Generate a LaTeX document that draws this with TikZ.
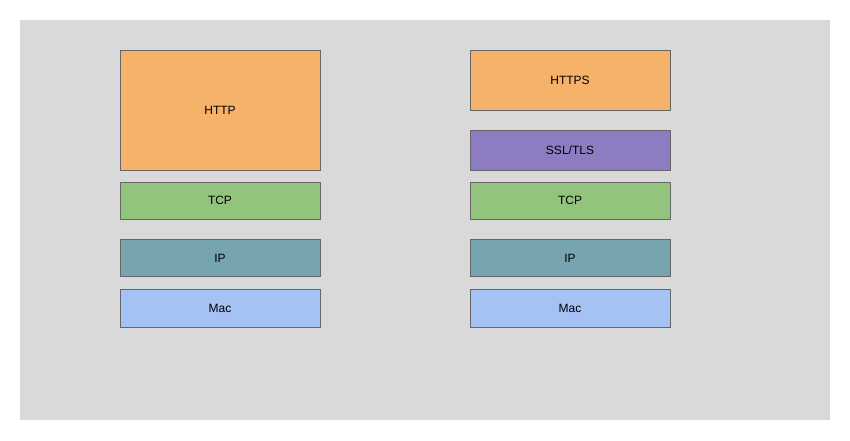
\documentclass[tikz,border=0pt]{standalone}
\usepackage{fontspec}
\setmainfont{Liberation Sans}
\usetikzlibrary{positioning}
\definecolor{bggray}{HTML}{D9D9D9}
\definecolor{edgecol}{HTML}{666666}
\definecolor{appcol}{HTML}{F6B26B}
\definecolor{sslcol}{HTML}{8E7CC3}
\definecolor{tcpcol}{HTML}{93C47D}
\definecolor{ipcol}{HTML}{76A5AF}
\definecolor{maccol}{HTML}{A4C2F4}
\tikzset{
  layer/.style={rectangle, draw=edgecol, line width=0.6pt, outer sep=0pt,
                minimum width=150pt, minimum height=28pt,
                align=center, font=\fontsize{9}{11}\selectfont},
}

\begin{document}
\begin{tikzpicture}[x=0.75pt, y=-0.75pt]
    \useasboundingbox (0,0) rectangle (850,440);
    \fill[bggray] (20,20) rectangle (830,420);
    % left stack
    \node[layer, fill=appcol, minimum height=90pt, anchor=north west] (http) at (120,50) {HTTP};
    \node[layer, fill=tcpcol, below=9pt of http] (tcpl) {TCP};
    \node[layer, fill=ipcol, below=15pt of tcpl] (ipl) {IP};
    \node[layer, fill=maccol, below=9.75pt of ipl] (macl) {Mac};
    % right stack
    \node[layer, fill=appcol, minimum height=45pt, anchor=north west] (https) at (470,50) {HTTPS};
    \node[layer, fill=sslcol, minimum height=30pt, below=15pt of https] (ssl) {SSL/TLS};
    \node[layer, fill=tcpcol, below=9pt of ssl] (tcpr) {TCP};
    \node[layer, fill=ipcol, below=15pt of tcpr] (ipr) {IP};
    \node[layer, fill=maccol, below=9.75pt of ipr] (macr) {Mac};
\end{tikzpicture}
\end{document}
